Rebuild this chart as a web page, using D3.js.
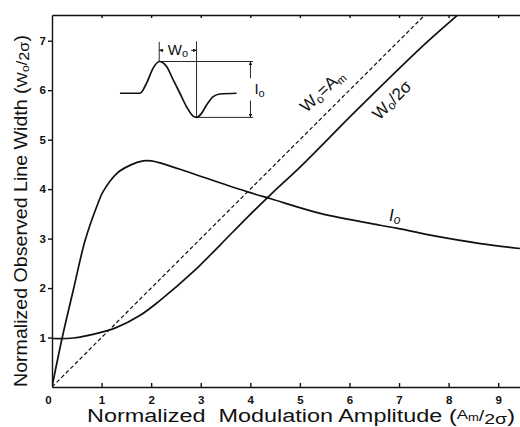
<!DOCTYPE html>
<html>
<head>
<meta charset="utf-8">
<script src="https://cdn.jsdelivr.net/npm/d3@7"></script>
<style>
  body { margin: 0; background: #fff; }
  svg { display: block; }
  .tick text { font-family: "Liberation Sans", Arial, sans-serif; font-weight: bold; font-size: 11.5px; fill: #111; }
  .tick line, .domain { stroke: #111; stroke-width: 1.4px; }
</style>
</head>
<body>
<svg></svg>
<script>
// curve readings (x = normalized modulation amplitude)
const ampI = [0, 0.2, 0.43, 0.67, 0.93, 1.03, 1.31, 1.57, 1.84, 2.0, 2.18, 2.85, 3.93, 4.43, 5.41, 6.62, 6.95, 7.63, 8.64, 9.44];
const intensity = [0, 0.97, 1.96, 2.97, 3.72, 3.95, 4.32, 4.48, 4.57, 4.57, 4.53, 4.31, 3.95, 3.8, 3.51, 3.27, 3.21, 3.07, 2.9, 2.8];

const ampW = [0, 0.43, 0.97, 1.27, 1.78, 2.18, 2.85, 3.4, 3.93, 4.4, 5.04, 6.11, 7.53, 8.3];
const lineWidth = [0.98, 0.99, 1.1, 1.19, 1.45, 1.75, 2.33, 2.88, 3.42, 3.88, 4.48, 5.56, 6.94, 7.62];

const ampDiag = [0, 8];
const xTicks = [0, 1, 2, 3, 4, 5, 6, 7, 8, 9];
const yTicks = [1, 2, 3, 4, 5, 6, 7];

// inset sketch of the derivative line shape, in its own 0..1 box
const insetU = [0, 0.152, 0.202, 0.252, 0.298, 0.354, 0.404, 0.455, 0.505, 0.555, 0.581, 0.619, 0.657, 0.707, 0.758, 0.884];
const insetV = [0.432, 0.432, 0.612, 0.881, 1, 0.91, 0.671, 0.432, 0.191, 0.023, 0, 0.072, 0.221, 0.371, 0.419, 0.432];

const size = {w: 520, h: 427};
const margin = {t: 15, r: 0, b: 40, l: 52};
const svg = d3.select('svg').attr('width', size.w).attr('height', size.h);

const x = d3.scaleLinear().domain([0, 9.44]).range([margin.l, size.w - margin.r]);
const y = d3.scaleLinear().domain([0, 7.52]).range([size.h - margin.b, margin.t]);

// clip for curves
svg.append('clipPath').attr('id', 'plot')
  .append('rect')
  .attr('x', x(0)).attr('y', y(7.52))
  .attr('width', x(9.44) - x(0)).attr('height', y(0) - y(7.52));

// axes
const xAxis = svg.append('g')
  .attr('transform', `translate(0,${y(0)})`)
  .call(d3.axisBottom(x).tickValues(xTicks).tickSizeInner(-4).tickSizeOuter(0).tickPadding(9).tickFormat(d3.format('d')));
xAxis.selectAll('.tick').filter(d => d === 0).select('text').attr('dx', -4);
xAxis.selectAll('.tick').filter(d => d === 0).select('line').remove();

svg.append('g')
  .attr('transform', `translate(${x(0)},0)`)
  .call(d3.axisLeft(y).tickValues(yTicks).tickSizeInner(4).tickSizeOuter(0).tickPadding(2).tickFormat(d3.format('d')));

svg.append('g')
  .attr('transform', `translate(0,${y(7.52)})`)
  .call(d3.axisTop(x).tickValues(xTicks.slice(1)).tickSizeInner(-3).tickSizeOuter(0).tickFormat(''));

// curves
const plotG = svg.append('g').attr('clip-path', 'url(#plot)');

const lineGen = d3.line().x(d => x(d[0])).y(d => y(d[1])).curve(d3.curveCatmullRom.alpha(0.5));

plotG.append('path')
  .datum(ampDiag.map(a => [a, a]))
  .attr('d', lineGen)
  .attr('fill', 'none').attr('stroke', '#111').attr('stroke-width', 1.2)
  .attr('stroke-dasharray', '4,2.5');

plotG.append('path')
  .datum(ampW.map((a, i) => [a, lineWidth[i]]))
  .attr('d', lineGen)
  .attr('fill', 'none').attr('stroke', '#111').attr('stroke-width', 1.7);

plotG.append('path')
  .datum(ampI.map((a, i) => [a, intensity[i]]))
  .attr('d', lineGen)
  .attr('fill', 'none').attr('stroke', '#111').attr('stroke-width', 1.7);

// curve labels
const lblFont = '"Liberation Sans", Arial, sans-serif';

const l1 = svg.append('text')
  .attr('transform', 'translate(326,95) rotate(-43)')
  .attr('text-anchor', 'middle')
  .style('font-family', lblFont).style('font-size', '17px').attr('fill', '#111');
l1.append('tspan').text('W');
l1.append('tspan').text('o').attr('font-size', '12px').attr('dy', 3);
l1.append('tspan').text('=A').attr('dy', -3);
l1.append('tspan').text('m').attr('font-size', '11px').attr('dy', 3);

const l2 = svg.append('text')
  .attr('transform', 'translate(396,104) rotate(-45)')
  .attr('text-anchor', 'middle')
  .style('font-family', lblFont).style('font-size', '17px').attr('fill', '#111');
l2.append('tspan').text('W');
l2.append('tspan').text('o').attr('font-size', '12px').attr('dy', 2);
l2.append('tspan').text('/2σ').attr('dy', -2);

const l3 = svg.append('text')
  .attr('x', 389).attr('y', 221)
  .style('font-family', lblFont).style('font-size', '17px').style('font-style', 'italic').attr('fill', '#111');
l3.append('tspan').text('I');
l3.append('tspan').text('o').attr('font-size', '12px').attr('dy', 3);

// inset
const ix = d3.scaleLinear().domain([0, 1]).range([x(1.37), x(4.03)]);
const iy = d3.scaleLinear().domain([0, 1]).range([y(5.45), y(6.58)]);
const insetG = svg.append('g');

const defs = svg.append('defs');
defs.append('marker').attr('id', 'arr')
  .attr('viewBox', '0 0 6 6').attr('refX', 6).attr('refY', 3)
  .attr('markerWidth', 4).attr('markerHeight', 4).attr('orient', 'auto')
  .append('path').attr('d', 'M0,0L6,3L0,6Z').attr('fill', '#111');

insetG.append('path')
  .datum(insetU.map((u, i) => [u, insetV[i]]))
  .attr('d', d3.line().x(d => ix(d[0])).y(d => iy(d[1])).curve(d3.curveMonotoneX))
  .attr('fill', 'none').attr('stroke', '#111').attr('stroke-width', 1.7);

const seg = (u1, v1, u2, v2, w, arrow) => {
  const s = insetG.append('line')
    .attr('x1', ix(u1)).attr('y1', iy(v1)).attr('x2', ix(u2)).attr('y2', iy(v2))
    .attr('stroke', '#111').attr('stroke-width', w);
  if (arrow) s.attr('marker-end', 'url(#arr)');
};
seg(0.298, 1, 1.01, 1, 0.9);
seg(0.581, 0, 1.01, 0, 0.9);
seg(0.581, 0, 0.581, 1.36, 0.9);
seg(0.298, 1, 0.298, 1.35, 0.9);
seg(0.33, 1.2, 0.298, 1.2, 0.9, true);
seg(0.54, 1.2, 0.581, 1.2, 0.9, true);
seg(0.99, 0.7, 0.99, 1, 0.9, true);
seg(0.99, 0.3, 0.99, 0, 0.9, true);

const wl = insetG.append('text')
  .attr('x', ix(0.44)).attr('y', iy(1.11))
  .attr('text-anchor', 'middle')
  .style('font-family', lblFont).style('font-size', '15px').attr('fill', '#111');
wl.append('tspan').text('W');
wl.append('tspan').text('o').attr('font-size', '11px').attr('dy', 2);

const il = insetG.append('text')
  .attr('x', ix(1.02)).attr('y', iy(0.42))
  .style('font-family', lblFont).style('font-size', '15px').attr('fill', '#111');
il.append('tspan').text('I');
il.append('tspan').text('o').attr('font-size', '11px').attr('dy', 3);

// axis titles
const xt = svg.append('text')
  .attr('x', 87).attr('y', 421.5)
  .attr('textLength', 428).attr('lengthAdjust', 'spacingAndGlyphs')
  .style('font-family', lblFont).style('font-size', '18px').attr('fill', '#111');
xt.append('tspan').text('Normalized\u00a0\u00a0Modulation Amplitude (');
xt.append('tspan').text('A').attr('font-size', '13px').attr('dy', -3);
xt.append('tspan').text('m').attr('font-size', '10px').attr('dy', 2);
xt.append('tspan').text('/').attr('font-size', '15px').attr('dy', 0);
xt.append('tspan').text('2σ').attr('font-size', '15px').attr('dy', 3);
xt.append('tspan').text(')').attr('dy', -2);

const yt = svg.append('text')
  .attr('transform', 'translate(27,387) rotate(-90)')
  .attr('textLength', 352).attr('lengthAdjust', 'spacingAndGlyphs')
  .style('font-family', lblFont).style('font-size', '18px').attr('fill', '#111');
yt.append('tspan').text('Normalized Observed Line Width (');
yt.append('tspan').text('W').attr('font-size', '15px');
yt.append('tspan').text('o').attr('font-size', '11px').attr('dy', 2);
yt.append('tspan').text('/').attr('font-size', '15px').attr('dy', -2);
yt.append('tspan').text('2σ').attr('font-size', '15px').attr('dy', 2);
yt.append('tspan').text(')').attr('dy', -2);
</script>
</body>
</html>
